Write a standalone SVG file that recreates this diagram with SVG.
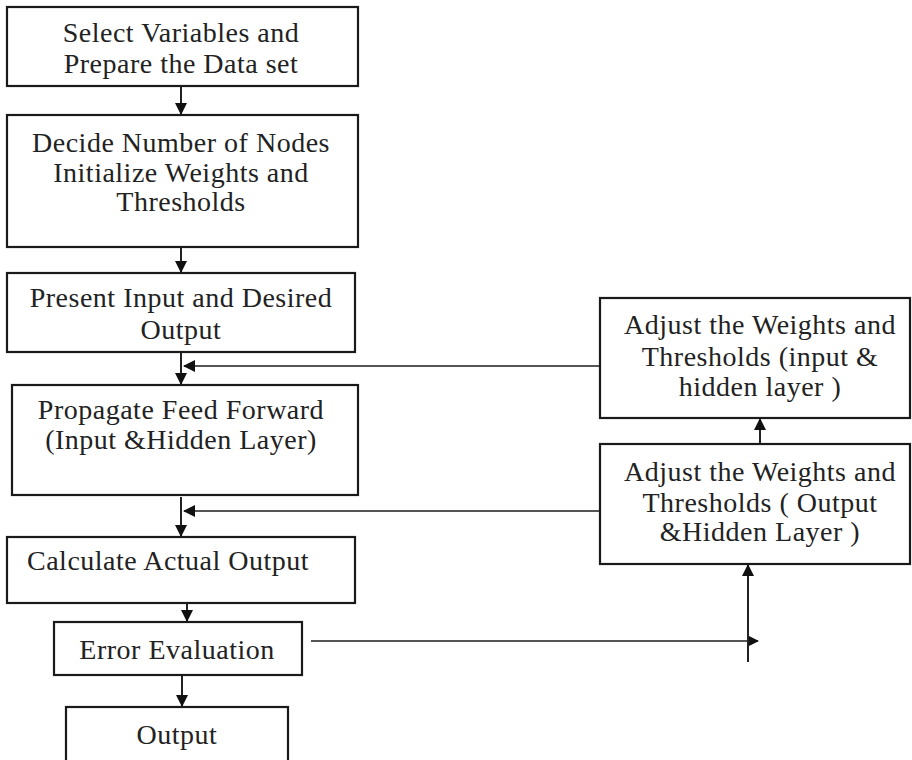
<svg xmlns="http://www.w3.org/2000/svg" width="912" height="760" viewBox="0 0 912 760">
<style>
.box{fill:#fff;stroke:#1a1a1a;stroke-width:2.2}
.t{font-family:"Liberation Serif","Times New Roman",serif;font-size:28px;letter-spacing:0.5px;fill:#222;text-anchor:middle}
.s{text-anchor:start}
.ln{fill:none;stroke:#222;stroke-width:2}
.fb{fill:none;stroke:#555;stroke-width:2}
</style>
<defs>
<marker id="ah" markerWidth="12" markerHeight="12" refX="11" refY="6" orient="auto" markerUnits="userSpaceOnUse">
<path d="M0,0 L12,6 L0,12 z" fill="#111"/>
</marker>
</defs>
<rect width="912" height="760" fill="#fff"/>
<g id="connectors">
<line class="ln" x1="181" y1="86" x2="181" y2="114" marker-end="url(#ah)"/>
<line class="ln" x1="181" y1="247" x2="181" y2="272" marker-end="url(#ah)"/>
<line class="ln" x1="181" y1="352" x2="181" y2="384" marker-end="url(#ah)"/>
<line class="fb" x1="600" y1="366" x2="184" y2="366" marker-end="url(#ah)"/>
<line class="ln" x1="181" y1="497" x2="181" y2="536" marker-end="url(#ah)"/>
<line class="fb" x1="600" y1="511" x2="184" y2="511" marker-end="url(#ah)"/>
<line class="ln" x1="187" y1="603" x2="187" y2="621" marker-end="url(#ah)"/>
<line class="ln" x1="182" y1="668" x2="182" y2="706" marker-end="url(#ah)"/>
<line class="fb" x1="311" y1="641" x2="758" y2="641" marker-end="url(#ah)"/>
<line class="ln" x1="748" y1="662" x2="748" y2="565" marker-end="url(#ah)"/>
<line class="ln" x1="760" y1="444" x2="760" y2="419" marker-end="url(#ah)"/>
</g>
<g id="n1">
<rect class="box" x="7" y="7" width="351" height="79"/>
<text class="t" x="181" y="42">Select Variables and</text>
<text class="t" x="181" y="73">Prepare the Data set</text>
</g>
<g id="n2">
<rect class="box" x="7" y="115" width="351" height="132"/>
<text class="t" x="181" y="152">Decide Number of Nodes</text>
<text class="t" x="181" y="182">Initialize Weights and</text>
<text class="t" x="181" y="211">Thresholds</text>
</g>
<g id="n3">
<rect class="box" x="7" y="273" width="348" height="79"/>
<text class="t" x="181" y="307">Present Input and Desired</text>
<text class="t" x="181" y="339">Output</text>
</g>
<g id="n4">
<rect class="box" x="12" y="385" width="346" height="110"/>
<text class="t" x="181" y="419">Propagate Feed Forward</text>
<text class="t" x="181" y="449">(Input &amp;Hidden Layer)</text>
</g>
<g id="n5">
<rect class="box" x="7" y="537" width="348" height="66"/>
<text class="t s" x="27" y="570">Calculate Actual Output</text>
</g>
<g id="n6">
<rect class="box" x="54" y="622" width="248" height="53"/>
<text class="t" x="177" y="659">Error Evaluation</text>
</g>
<g id="n7">
<rect class="box" x="66" y="707" width="222" height="60"/>
<text class="t" x="177" y="744">Output</text>
</g>
<g id="r1">
<rect class="box" x="600" y="298" width="310" height="120"/>
<text class="t" x="760" y="334">Adjust the Weights and</text>
<text class="t" x="760" y="366">Thresholds (input &amp;</text>
<text class="t" x="760" y="396">hidden layer )</text>
</g>
<g id="r2">
<rect class="box" x="600" y="444" width="310" height="120"/>
<text class="t" x="760" y="481">Adjust the Weights and</text>
<text class="t" x="760" y="512">Thresholds ( Output</text>
<text class="t" x="760" y="541">&amp;Hidden Layer )</text>
</g>
</svg>
